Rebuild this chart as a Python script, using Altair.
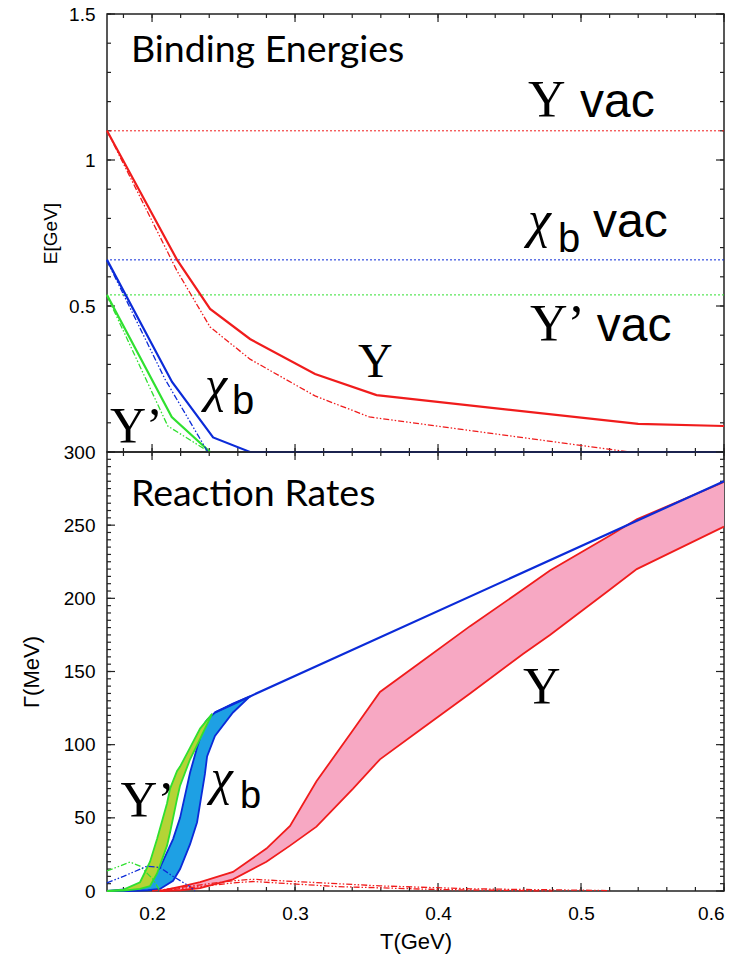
import altair as alt
import pandas as pd

# ---------------- data ----------------
T_DOMAIN = [0.1685, 0.6]
E_DOMAIN = [0.0, 1.5]
G_DOMAIN = [0.0, 300.0]

RED = "#f01c1c"
BLUE = "#0b2bd8"
GREEN = "#30e030"
PINK = "#f7a8c3"
CYAN = "#1ea0e4"
LIME = "#b4d436"

# top panel: binding energies E [GeV]
vac_E = [1.10, 0.658, 0.538]
vac_color = [RED, BLUE, GREEN]

ups_T = [0.1685, 0.2175, 0.2406, 0.2685, 0.314, 0.357, 0.540, 0.600]
ups_E = [1.10, 0.658, 0.490, 0.387, 0.267, 0.195, 0.096, 0.089]
ups_dd_T = [0.1685, 0.2175, 0.2406, 0.2685, 0.314, 0.352, 0.534]
ups_dd_E = [1.10, 0.620, 0.428, 0.318, 0.192, 0.120, 0.0]
chi_T = [0.1685, 0.214, 0.2427, 0.2685, 0.600]
chi_E = [0.658, 0.240, 0.050, 0.0, 0.0]
chi_dd_T = [0.1685, 0.209, 0.239]
chi_dd_E = [0.655, 0.250, 0.0]
ups2_T = [0.1685, 0.2138, 0.2406]
ups2_E = [0.538, 0.120, 0.0]
ups2_dd_T = [0.1685, 0.211, 0.240]
ups2_dd_E = [0.535, 0.089, 0.0]

# bottom panel: reaction rates Gamma [MeV]
red_band_T = [0.2056, 0.22, 0.2336, 0.2566, 0.28, 0.2965, 0.315, 0.3406, 0.3594,
              0.3874, 0.4224, 0.4594, 0.4783, 0.5203, 0.539, 0.6]
red_band_hi = [0, 3, 6, 13, 29, 44.5, 75, 110, 136, 156, 181, 206, 219, 243, 254, 279.5]
red_band_lo = [0, 0.5, 2, 8, 20, 31, 44, 70, 90, 110, 135, 162, 175, 206, 220, 249]

chi_band_T = [0.1685, 0.185, 0.197, 0.2056, 0.2147, 0.2196, 0.2266, 0.2315, 0.237,
              0.2385, 0.244, 0.2566, 0.2685]
chi_band_hi = [0, 1.5, 6, 16, 35.5, 50, 81, 98, 115, 117, 122, 128, 133]
chi_band_lo = [0, 0, 0.5, 1.4, 7, 15, 32, 47, 80, 92, 106, 122, 133]

ups2_band_T = [0.1685, 0.18, 0.1916, 0.1986, 0.2035, 0.2105, 0.2126, 0.2175, 0.2196,
               0.2266, 0.2336, 0.242]
ups2_band_hi = [0, 1, 6, 20, 35.5, 60, 70, 82, 85, 98, 111, 121]
ups2_band_lo = [0, 0.3, 1.5, 3.4, 12, 31, 40, 63, 72, 90, 104, 121]

chi_high_T = [0.244, 0.2685, 0.600]
chi_high_G = [122, 133, 280]

ups2_dd_G_T = [0.1685, 0.1846, 0.1916, 0.2007, 0.2056]
ups2_dd_G = [13.7, 19.8, 17, 8, 0]
chi_dd_G_T = [0.1685, 0.18, 0.1965, 0.2056, 0.2147, 0.2266, 0.23]
chi_dd_G = [5.5, 10, 17, 16, 10, 3, 0]
ups_dd1_G_T = [0.200, 0.2566, 0.2706, 0.359, 0.4224, 0.52]
ups_dd1_G = [0, 7, 8, 3.5, 1.5, 0.3]
ups_dd2_G_T = [0.205, 0.2566, 0.2706, 0.33, 0.40, 0.48]
ups_dd2_G = [0, 5.5, 6.5, 3, 1, 0]

# tick positions
x_major = [0.2, 0.3, 0.4, 0.5, 0.6]
x_minor = [round(0.18 + 0.02 * i, 2) for i in range(22)]
e_major = [0.0, 0.5, 1.0, 1.5]
e_minor = [round(0.1 * i, 1) for i in range(16)]
g_major = list(range(0, 301, 50))
g_minor = list(range(0, 301, 5))

# annotations (label, T, value, font size)
top_serif = [("Υ", 0.4630, 1.147, 52), ("Υ’", 0.4643, 0.380, 52),
             ("Υ", 0.344, 0.257, 48), ("Υ’", 0.1706, 0.034, 50)]
top_chi = [("χ", 0.4630, 0.736, 52), ("χ", 0.2370, 0.175, 50)]
top_sans = [("vac", 0.4993, 1.147, 48), ("vac", 0.5084, 0.736, 48), ("vac", 0.511, 0.380, 48),
            ("b", 0.4839, 0.685, 40), ("b", 0.256, 0.130, 40)]
top_title = [("Binding Energies", 0.1852, 1.336, 37.5)]

bot_serif = [("Υ’", 0.178, 51, 51), ("Υ", 0.4594, 128, 52)]
bot_chi = [("χ", 0.241, 66, 50)]
bot_sans = [("b", 0.2615, 57, 38)]
bot_title = [("Reaction Rates", 0.1852, 263, 37.5)]

W = 617
H_TOP = 438
H_BOT = 439
MAJOR_LEN = 8
MINOR_LEN = 4
FRAME = "#222222"
U = alt.Undefined


# ---------------- helpers ----------------
# Axes are never switched off per layer (that disables the merged, shared axis);
# one layer per panel carries the explicit axis definition and the others inherit it.
def xenc(xa=U):
    return alt.X("T:Q", scale=alt.Scale(domain=T_DOMAIN, nice=False, zero=False), axis=xa)


def yenc(field, domain, ya=U):
    return alt.Y(f"{field}:Q", scale=alt.Scale(domain=domain, nice=False, zero=False),
                 axis=ya)


def line(T, V, color, domain, xa, dash=None, width=2.2, ya=U):
    df = pd.DataFrame({"T": T, "V": V})
    kw = dict(color=color, strokeWidth=width, clip=False)
    if dash:
        kw["strokeDash"] = dash
    return alt.Chart(df).mark_line(**kw).encode(x=xenc(xa), y=yenc("V", domain, ya))


def band(T, lo, hi, fill, domain, xa):
    df = pd.DataFrame({"T": T, "lo": lo, "hi": hi})
    return alt.Chart(df).mark_area(color=fill, opacity=1).encode(
        x=xenc(xa), y=yenc("hi", domain), y2=alt.Y2("lo:Q"))


def texts(rows, domain, font, xa, style="normal"):
    df = pd.DataFrame(rows, columns=["label", "T", "V", "size"])
    return alt.Chart(df).mark_text(font=font, fontStyle=style, align="left",
                                   baseline="alphabetic", color="black").encode(
        x=xenc(xa), y=yenc("V", domain), text="label:N",
        size=alt.Size("size:Q", scale=None))


def frame_ticks(domain, h, y_major, y_minor, xa):
    """Inward-pointing ticks on all four edges, placed through the panel scales."""
    out = []
    rule = dict(color=FRAME, strokeWidth=1.2, clip=False)
    for vals, ln in ((y_major, MAJOR_LEN), (y_minor, MINOR_LEN)):
        df = pd.DataFrame({"V": vals})
        out.append(alt.Chart(df).mark_rule(**rule).encode(
            y=yenc("V", domain), x=alt.value(0), x2=alt.value(ln)))
        out.append(alt.Chart(df).mark_rule(**rule).encode(
            y=yenc("V", domain), x=alt.value(W), x2=alt.value(W - ln)))
    for vals, ln in ((x_major, MAJOR_LEN), (x_minor, MINOR_LEN)):
        df = pd.DataFrame({"T": vals})
        out.append(alt.Chart(df).mark_rule(**rule).encode(
            x=xenc(xa), y=alt.value(0), y2=alt.value(ln)))
        out.append(alt.Chart(df).mark_rule(**rule).encode(
            x=xenc(xa), y=alt.value(h), y2=alt.value(h - ln)))
    return out


DD = [6, 2, 1.5, 2, 1.5, 2]

# ---------------- top panel (no x axis at all) ----------------
XT = None
top_yaxis = alt.Axis(orient="left", values=[0.5, 1.0, 1.5], format="~g",
                     ticks=False, tickSize=0, domain=False, grid=False,
                     labelPadding=12, labelFontSize=19,
                     title="E[GeV]", titleFontSize=19, titleX=-47)

vac_df = pd.DataFrame({"V": vac_E, "c": vac_color})
vac = alt.Chart(vac_df).mark_rule(strokeDash=[2, 2], strokeWidth=1).encode(
    y=yenc("V", E_DOMAIN, top_yaxis), color=alt.Color("c:N", scale=None))

top_layers = frame_ticks(E_DOMAIN, H_TOP, e_major, e_minor, XT) + [
    vac,
    line(ups_dd_T, ups_dd_E, RED, E_DOMAIN, XT, DD, 1.3),
    line(ups_T, ups_E, RED, E_DOMAIN, XT),
    line(ups2_dd_T, ups2_dd_E, GREEN, E_DOMAIN, XT, DD, 1.3),
    line(ups2_T, ups2_E, GREEN, E_DOMAIN, XT),
    line(chi_dd_T, chi_dd_E, BLUE, E_DOMAIN, XT, DD, 1.3),
    line(chi_T, chi_E, BLUE, E_DOMAIN, XT),
    texts(top_serif, E_DOMAIN, "Liberation Serif", XT),
    texts(top_chi, E_DOMAIN, "Liberation Serif", XT, "italic"),
    texts(top_sans, E_DOMAIN, "Liberation Sans", XT),
    texts(top_title, E_DOMAIN, "Lato", XT),
]

top = alt.layer(*top_layers).properties(width=W, height=H_TOP)

# ---------------- bottom panel ----------------
XB = U
bot_yaxis = alt.Axis(orient="left", values=g_major,
                     ticks=False, tickSize=0, domain=False, grid=False,
                     labelPadding=12, labelFontSize=19,
                     title="Γ(MeV)", titleFontSize=22, titleX=-64)
bot_xaxis = alt.Axis(orient="bottom", values=x_major,
                     format="~g", ticks=False, tickSize=0, domain=False,
                     grid=False, labelPadding=13, labelFontSize=19,
                     title="T(GeV)", titleFontSize=22, titlePadding=8)

bot_layers = frame_ticks(G_DOMAIN, H_BOT, g_major, g_minor, XB) + [
    band(red_band_T, red_band_lo, red_band_hi, PINK, G_DOMAIN, XB),
    line(red_band_T, red_band_hi, RED, G_DOMAIN, XB, width=1.8),
    line(red_band_T, red_band_lo, RED, G_DOMAIN, XB, width=1.8),
    band(chi_band_T, chi_band_lo, chi_band_hi, CYAN, G_DOMAIN, XB),
    line(chi_band_T, chi_band_hi, BLUE, G_DOMAIN, XB, width=1.8),
    line(chi_band_T, chi_band_lo, BLUE, G_DOMAIN, XB, width=1.8),
    band(ups2_band_T, ups2_band_lo, ups2_band_hi, LIME, G_DOMAIN, XB),
    line(ups2_band_T, ups2_band_hi, GREEN, G_DOMAIN, XB, width=1.8),
    line(ups2_band_T, ups2_band_lo, GREEN, G_DOMAIN, XB, width=1.8),
    line(chi_high_T, chi_high_G, BLUE, G_DOMAIN, bot_xaxis, width=2.2, ya=bot_yaxis),
    line(ups2_dd_G_T, ups2_dd_G, GREEN, G_DOMAIN, XB, DD, 1.3),
    line(chi_dd_G_T, chi_dd_G, BLUE, G_DOMAIN, XB, DD, 1.3),
    line(ups_dd1_G_T, ups_dd1_G, RED, G_DOMAIN, XB, DD, 1.3),
    line(ups_dd2_G_T, ups_dd2_G, RED, G_DOMAIN, XB, DD, 1.3),
    texts(bot_serif, G_DOMAIN, "Liberation Serif", XB),
    texts(bot_chi, G_DOMAIN, "Liberation Serif", XB, "italic"),
    texts(bot_sans, G_DOMAIN, "Liberation Sans", XB),
    texts(bot_title, G_DOMAIN, "Lato", XB),
]

bottom = alt.layer(*bot_layers).properties(width=W, height=H_BOT)

chart = alt.vconcat(top, bottom, spacing=0, bounds="flush").properties(
    padding={"left": 19, "top": 4, "right": 5, "bottom": 5},
    background="white",
).configure_view(stroke=FRAME, strokeWidth=1.5).configure_axis(
    labelFont="Liberation Sans", titleFont="Liberation Sans",
    labelColor="black", titleColor="black", titleFontWeight="normal")

chart.save("out.html", embed_options={"renderer": "svg", "actions": False})
